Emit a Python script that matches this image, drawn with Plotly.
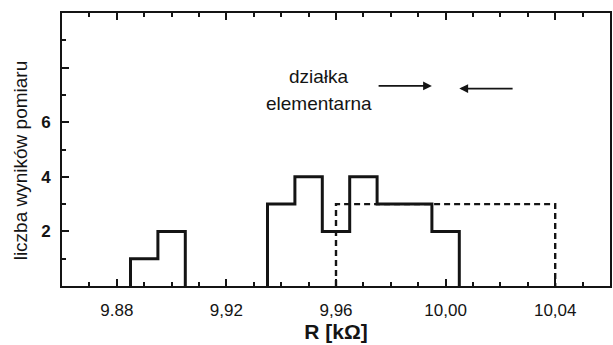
import plotly.graph_objects as go

# Histogram of the resistance measurements (bin centres in kΩ, bin width 0.01 kΩ)
bin_centers = [9.89, 9.90, 9.94, 9.95, 9.96, 9.97, 9.98, 9.99, 10.00]
counts = [1, 2, 3, 4, 2, 4, 3, 3, 2]
bin_width = 0.01

# Uniform (rectangular) reference distribution
uniform_range = [9.96, 10.04]
uniform_height = 3

# Elementary scale division marked by the two arrows
division_edges = [9.995, 10.005]

x_tickvals = [9.88, 9.92, 9.96, 10.00, 10.04]
x_ticktext = ["9.88", "9,92", "9,96", "10,00", "10,04"]
y_tickvals = [2, 4, 6, 8]
y_ticktext = ["2", "4", "6", ""]

FONT = "Liberation Sans, Arial, sans-serif"
INK = "#141414"


def step_outline(centers, heights, width):
    """Outline of contiguous histogram runs, separated by gaps (None)."""
    xs, ys = [], []
    run = []
    for c, h in zip(centers, heights):
        if run and abs(c - run[-1][0] - width) > width / 2:
            xs, ys = _close_run(run, width, xs, ys)
            run = []
        run.append((c, h))
    if run:
        xs, ys = _close_run(run, width, xs, ys)
    return xs, ys


def _close_run(run, width, xs, ys):
    left = run[0][0] - width / 2
    xs += [left, left]
    ys += [0, run[0][1]]
    for i, (c, h) in enumerate(run):
        right = c + width / 2
        xs += [right]
        ys += [h]
        nxt = run[i + 1][1] if i + 1 < len(run) else 0
        xs += [right]
        ys += [nxt]
    xs.append(None)
    ys.append(None)
    return xs, ys


hx, hy = step_outline(bin_centers, counts, bin_width)

fig = go.Figure()

# Uniform distribution, dashed
fig.add_trace(go.Scatter(
    x=[uniform_range[0], uniform_range[0], uniform_range[1], uniform_range[1]],
    y=[0, uniform_height, uniform_height, 0],
    mode="lines",
    line=dict(color=INK, width=2.4, dash="6px,4px"),
    hoverinfo="skip",
))

# Measured histogram, solid
fig.add_trace(go.Scatter(
    x=hx, y=hy,
    mode="lines",
    line=dict(color=INK, width=3),
    connectgaps=False,
    hoverinfo="skip",
))

annotations = [
    dict(x=9.9539, y=7.66, text="działka", showarrow=False,
         font=dict(family=FONT, size=19, color=INK), xanchor="center", yanchor="middle"),
    dict(x=9.9539, y=6.68, text="elementarna", showarrow=False,
         font=dict(family=FONT, size=19, color=INK), xanchor="center", yanchor="middle"),
    # arrow pointing right towards the lower edge of the division
    dict(x=division_edges[0], y=7.33, ax=division_edges[0] - 0.02, ay=7.33,
         xref="x", yref="y", axref="x", ayref="y", text="", showarrow=True,
         arrowhead=2, arrowsize=1.1, arrowwidth=1.6, arrowcolor=INK),
    # arrow pointing left towards the upper edge of the division
    dict(x=division_edges[1], y=7.23, ax=division_edges[1] + 0.02, ay=7.23,
         xref="x", yref="y", axref="x", ayref="y", text="", showarrow=True,
         arrowhead=2, arrowsize=1.1, arrowwidth=1.6, arrowcolor=INK),
    # y-axis title
    dict(x=-0.075, y=0.46, xref="paper", yref="paper", text="liczba wyników pomiaru",
         showarrow=False, textangle=-90, xanchor="center", yanchor="middle",
         font=dict(family=FONT, size=19, color=INK)),
]

fig.update_layout(
    width=613, height=345,
    margin=dict(l=62, r=1, t=13, b=59),
    paper_bgcolor="white", plot_bgcolor="white",
    showlegend=False,
    annotations=annotations,
    font=dict(family=FONT, color=INK),
    xaxis=dict(
        range=[9.86, 10.06],
        tickmode="array", tickvals=x_tickvals, ticktext=x_ticktext,
        ticks="inside", ticklen=7, tickwidth=1.5, tickcolor=INK,
        minor=dict(tickmode="linear", tick0=9.86, dtick=0.01,
                   ticks="inside", ticklen=4, tickwidth=1.5, tickcolor=INK),
        showline=True, linecolor=INK, linewidth=2, mirror="allticks",
        showgrid=False, zeroline=False,
        tickfont=dict(family=FONT, size=17, color=INK),
        ticklabelstandoff=8,
        title=dict(text="<b>R [kΩ]</b>", font=dict(family=FONT, size=21, color=INK),
                   standoff=2),
    ),
    yaxis=dict(
        range=[0, 10],
        tickmode="array", tickvals=y_tickvals, ticktext=y_ticktext,
        ticks="inside", ticklen=7, tickwidth=1.5, tickcolor=INK,
        minor=dict(tickmode="linear", tick0=0, dtick=1,
                   ticks="inside", ticklen=4, tickwidth=1.5, tickcolor=INK),
        showline=True, linecolor=INK, linewidth=2, mirror=True,
        showgrid=False, zeroline=False,
        tickfont=dict(family=FONT, size=17, color=INK, weight="bold"),
        ticklabelstandoff=6,
    ),
)

fig.write_html("out.html")
